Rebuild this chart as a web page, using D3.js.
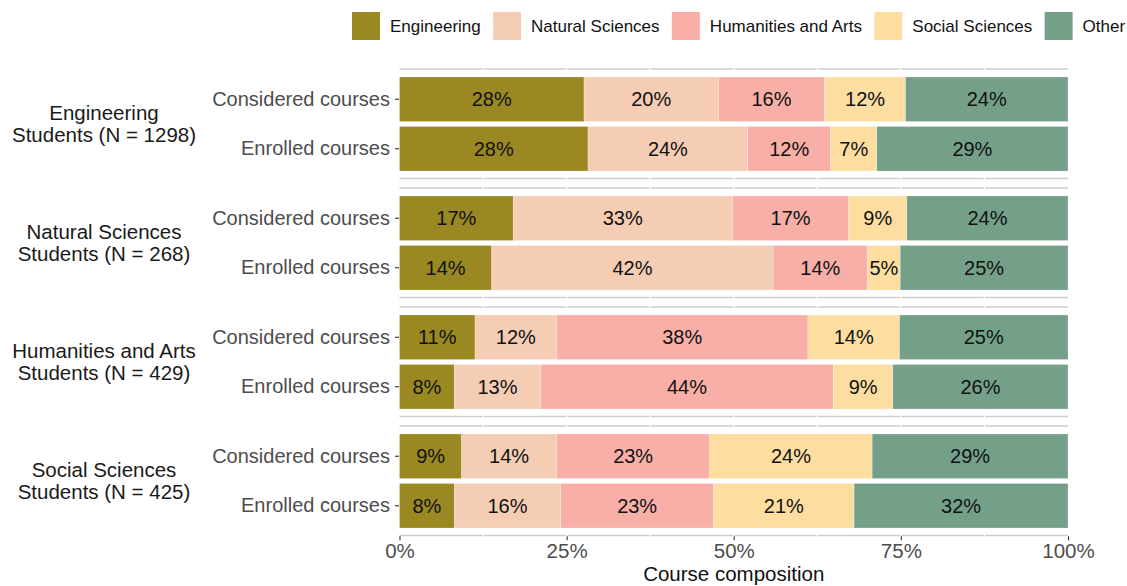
<!DOCTYPE html>
<html>
<head>
<meta charset="utf-8">
<script src="https://cdn.jsdelivr.net/npm/d3@7"></script>
<style>
  html, body { margin: 0; padding: 0; background: #ffffff; }
  svg { display: block; font-family: "Liberation Sans", Arial, sans-serif; }
</style>
</head>
<body>
<svg id="chart" width="1127" height="586"></svg>
<script>
// ---------------- DATA ----------------
const groupNames = ["Engineering", "Natural Sciences", "Humanities and Arts", "Social Sciences"];
const groupSizes = [1298, 268, 429, 425];
const courseTypes = ["Considered courses", "Enrolled courses"];
const seriesNames = ["Engineering", "Natural Sciences", "Humanities and Arts", "Social Sciences", "Other"];
const seriesColors = ["#9A8822", "#F5CDB4", "#F8AFA8", "#FDDDA0", "#74A089"];
// values per row: Eng-Considered, Eng-Enrolled, Nat-Considered, Nat-Enrolled,
//                 Hum-Considered, Hum-Enrolled, Soc-Considered, Soc-Enrolled
const engineeringShare     = [27.6, 28.2, 17.0, 13.8, 11.3,  8.2,  9.3,  8.2];
const naturalSciencesShare = [20.1, 23.9, 32.8, 42.1, 12.2, 12.9, 14.2, 15.9];
const humanitiesArtsShare  = [15.9, 12.4, 17.4, 14.1, 37.6, 43.8, 22.9, 22.9];
const socialSciencesShare  = [12.1,  6.9,  8.7,  4.9, 13.7,  8.9, 24.3, 21.0];
const otherShare           = [24.3, 28.6, 24.1, 25.1, 25.2, 26.2, 29.3, 32.0];
const xTickValues = [0, 0.25, 0.5, 0.75, 1];
const xTitle = "Course composition";

// ---------------- BUILD ROWS ----------------
const seriesValues = [engineeringShare, naturalSciencesShare, humanitiesArtsShare, socialSciencesShare, otherShare];
const rows = [];
groupNames.forEach((g, gi) => {
  courseTypes.forEach((c, ci) => {
    const idx = gi * courseTypes.length + ci;
    let cum = 0;
    const segs = seriesNames.map((s, si) => {
      const v = seriesValues[si][idx] / 100;
      const seg = { group: g, course: c, series: s, si, x0: cum, x1: cum + v, v };
      cum += v;
      return seg;
    });
    rows.push({ group: g, course: c, segs });
  });
});

// ---------------- SCALES ----------------
const svg = d3.select("#chart");
const x = d3.scaleLinear().domain([0, 1]).range([399.5, 1068]);
const panelY = d3.scaleBand().domain(groupNames).range([69, 535.5]).paddingInner(0.0798).paddingOuter(0);
const color = d3.scaleOrdinal().domain(seriesNames).range(seriesColors);

const fmtLabel = v => Math.round(v * 100) + "%";

// ---------------- PANELS ----------------
groupNames.forEach((g, gi) => {
  const T = panelY(g);
  const H = panelY.bandwidth();
  const inner = d3.scaleBand().domain(courseTypes).range([T + 5.5, T + H - 5]).paddingInner(0.1).paddingOuter(0.05);
  const pg = svg.append("g").attr("class", "panel");

  // gray boundary lines (top/bottom)
  [T, T + H].forEach(yy => {
    pg.append("line")
      .attr("x1", x(0)).attr("x2", x(1))
      .attr("y1", yy).attr("y2", yy)
      .attr("stroke", "#cdcdcd").attr("stroke-width", 1.6);
  });
  // white vertical gridlines (major & minor)
  d3.range(1, 8).map(i => i / 8).forEach(t => {
    pg.append("line")
      .attr("x1", x(t)).attr("x2", x(t))
      .attr("y1", T - 2).attr("y2", T + H + 2)
      .attr("stroke", "#ffffff").attr("stroke-width", 1.2);
  });

  // bars
  const groupRows = rows.filter(r => r.group === g);
  groupRows.forEach(r => {
    const y0 = inner(r.course);
    const bw = inner.bandwidth();
    const rg = pg.append("g");
    rg.selectAll("rect").data(r.segs).join("rect")
      .attr("x", d => x(d.x0))
      .attr("y", y0)
      .attr("width", d => x(d.x1) - x(d.x0))
      .attr("height", bw)
      .attr("fill", d => color(d.series))
      .attr("stroke", "#ffffff").attr("stroke-width", 0.4).attr("stroke-opacity", 0.6);
    rg.selectAll("text").data(r.segs).join("text")
      .attr("x", d => (x(d.x0) + x(d.x1)) / 2)
      .attr("y", y0 + bw / 2)
      .attr("dy", "0.35em")
      .attr("text-anchor", "middle")
      .attr("font-size", 20)
      .attr("fill", "#111111")
      .text(d => fmtLabel(d.v));
  });

  // y axis (course types)
  const ya = pg.append("g").attr("transform", `translate(${x(0) - 0.5},0)`)
    .call(d3.axisLeft(inner).tickSize(4).tickPadding(5));
  ya.select(".domain").remove();
  ya.selectAll(".tick line").attr("stroke", "#333333").attr("stroke-width", 1.1);
  ya.selectAll(".tick text").attr("font-size", 20).attr("fill", "#4d4d4d")
    .attr("font-family", "Liberation Sans, Arial, sans-serif");

  // group strip label
  const cy = T + H / 2;
  const gl = pg.append("text")
    .attr("x", 104).attr("y", cy)
    .attr("text-anchor", "middle")
    .attr("font-size", 20.5)
    .attr("fill", "#1a1a1a");
  gl.append("tspan").attr("x", 104).attr("dy", "-0.2em").text(g);
  gl.append("tspan").attr("x", 104).attr("dy", "1.1em").text(`Students (N = ${groupSizes[gi]})`);
});

// ---------------- X AXIS ----------------
const lastT = panelY(groupNames[groupNames.length - 1]) + panelY.bandwidth();
const xa = svg.append("g").attr("transform", `translate(0,${lastT + 0.8})`)
  .call(d3.axisBottom(x).tickValues(xTickValues).tickFormat(d3.format(".0%")).tickSize(4).tickPadding(3));
xa.select(".domain").remove();
xa.selectAll(".tick line").attr("stroke", "#333333").attr("stroke-width", 1.1);
xa.selectAll(".tick text").attr("font-size", 20.5).attr("fill", "#4d4d4d")
  .attr("font-family", "Liberation Sans, Arial, sans-serif");

svg.append("text")
  .attr("x", (x(0) + x(1)) / 2).attr("y", 581)
  .attr("text-anchor", "middle")
  .attr("font-size", 20.5)
  .attr("fill", "#111111")
  .text(xTitle);

// ---------------- LEGEND ----------------
const legend = svg.append("g").attr("class", "legend");
let lx = 352;
const keySize = 28, keyY = 12;
seriesNames.forEach((s, i) => {
  legend.append("rect")
    .attr("x", lx).attr("y", keyY).attr("width", keySize).attr("height", keySize)
    .attr("fill", color(s));
  lx += keySize + 10;
  const t = legend.append("text")
    .attr("x", lx).attr("y", keyY + keySize / 2)
    .attr("dy", "0.35em")
    .attr("font-size", 17)
    .attr("fill", "#111111")
    .text(s);
  lx += t.node().getComputedTextLength() + 12.3;
});
</script>
</body>
</html>
